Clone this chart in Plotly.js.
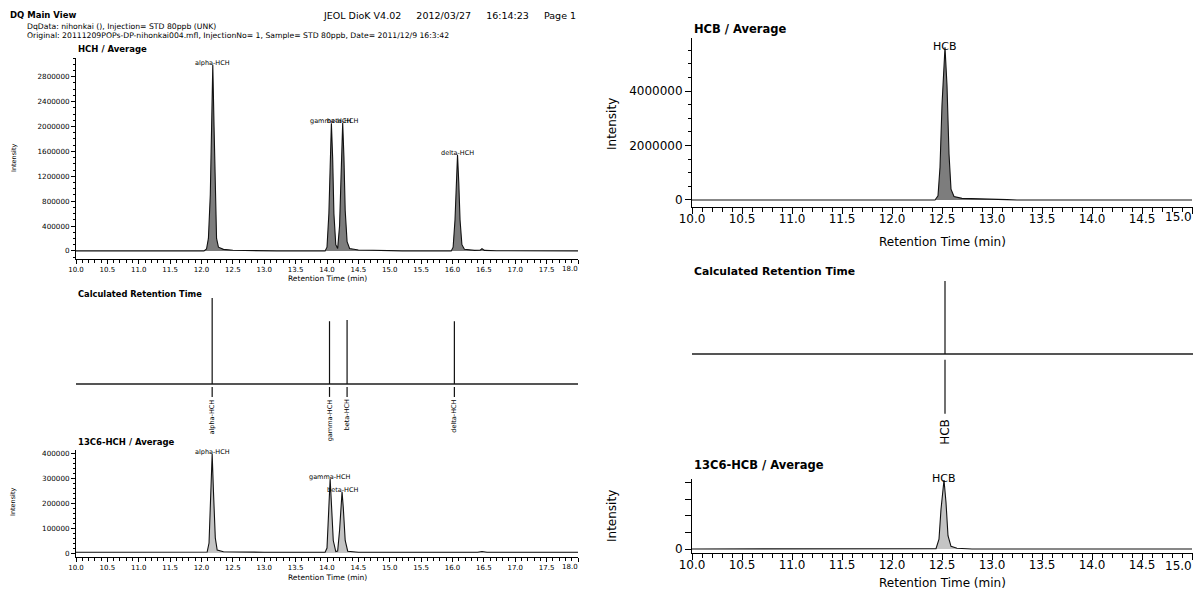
<!DOCTYPE html>
<html><head><meta charset="utf-8">
<script src="https://cdn.plot.ly/plotly-3.0.1.min.js"></script>
<style>html,body{margin:0;padding:0;background:#fff}#c{width:1194px;height:594px}</style>
</head><body><div id="c"></div>
<script>
// ---------- data ----------
const hchTime = [10.00,11.50,12.04,12.08,12.11,12.14,12.16,12.18,12.20,12.22,12.24,12.27,12.35,12.50,12.80,13.20,13.97,14.00,14.03,14.05,14.07,14.09,14.11,14.14,14.17,14.20,14.23,14.25,14.27,14.29,14.32,14.36,14.50,14.80,15.20,15.98,16.01,16.04,16.06,16.08,16.10,16.12,16.15,16.19,16.35,16.44,16.47,16.51,16.70,17.00,18.00];
const hchInt  = [0,0,0,30000,200000,900000,2000000,2990000,2000000,800000,200000,60000,25000,10000,4000,0,0,60000,600000,1500000,2050000,1500000,600000,100000,40000,400000,1500000,2060000,1500000,650000,150000,40000,15000,6000,0,0,60000,500000,1100000,1545000,1100000,500000,100000,25000,8000,10000,35000,8000,3000,0,0];

const c13hchTime = [10.00,11.00,12.00,12.09,12.12,12.15,12.17,12.19,12.22,12.25,12.35,13.00,13.97,14.00,14.03,14.05,14.07,14.10,14.14,14.17,14.20,14.22,14.24,14.26,14.29,14.33,14.50,16.40,16.47,16.55,18.00];
const c13hchInt  = [3000,3000,3000,4000,40000,250000,396000,250000,60000,12000,5000,3000,3000,20000,180000,296000,200000,50000,6000,8000,90000,200000,245000,180000,50000,7000,3000,3000,6000,3000,3000];

const hcbTime = [10.0,12.43,12.46,12.48,12.50,12.53,12.55,12.57,12.59,12.62,12.70,12.85,13.00,13.15,13.25,15.0];
const hcbInt  = [0,0,150000,1200000,3500000,5610000,4200000,1700000,400000,130000,60000,35000,25000,12000,0,0];

const c13hcbTime = [10.0,12.40,12.44,12.47,12.49,12.52,12.54,12.56,12.59,12.65,12.72,12.80,15.0];
const c13hcbInt  = [0,0,5000,150000,600000,1040000,700000,200000,40000,12000,5000,0,0];

// peak labels
const hchPeakNames = ['alpha-HCH','gamma-HCH','beta-HCH','delta-HCH'];
const hchPeakTimes = [12.18,14.07,14.25,16.08];
const hchPeakInts  = [2990000,2050000,2060000,1545000];
const c13hchPeakNames = ['alpha-HCH','gamma-HCH','beta-HCH'];
const c13hchPeakTimes = [12.17,14.05,14.24];
const c13hchPeakInts  = [396000,296000,245000];
const hcbPeakNames = ['HCB'];
const hcbPeakTimes = [12.53];
const hcbPeakInts  = [5610000];
const c13hcbPeakNames = ['HCB'];
const c13hcbPeakTimes = [12.52];
const c13hcbPeakInts  = [1040000];

// calculated retention times
const calcNamesL   = ['alpha-HCH','gamma-HCH','beta-HCH','delta-HCH'];
const calcTimesL   = [12.17,14.04,14.32,16.03];
const calcHeightsL = [1.0,0.73,0.745,0.73];
const calcNamesR   = ['HCB'];
const calcTimesR   = [12.53];
const calcHeightsR = [1.0];

// x tick labels (last one drawn flush with the axis end)
const leftTickVals  = [10,10.5,11,11.5,12,12.5,13,13.5,14,14.5,15,15.5,16,16.5,17,17.5,18];
const leftTickText  = ['10.0','10.5','11.0','11.5','12.0','12.5','13.0','13.5','14.0','14.5','15.0','15.5','16.0','16.5','17.0','17.5',''];
const leftLastLabel = '18.0';
const rightTickVals = [10,10.5,11,11.5,12,12.5,13,13.5,14,14.5,15];
const rightTickText = ['10.0','10.5','11.0','11.5','12.0','12.5','13.0','13.5','14.0','14.5',''];
const rightLastLabel = '15.0';
const hcbLabelVals = [0,250000,500000,750000,1000000];
const hcbLabelText = ['0','','','',''];

// ---------- layout helpers ----------
const W=1194,H=594;
const fx=p=>p/W, fy=p=>1-p/H;
const FONT='"DejaVu Sans", "Liberation Sans", sans-serif';
const LX=[fx(76),fx(578)], RX=[fx(692),fx(1193)];

function chromX(dom, anchor, range, fs, big){
  return {domain:dom, anchor:anchor, range:range, showline:true, linecolor:'#000', linewidth:1,
    ticks:'outside', ticklen:big?6:4, tickwidth:1, tickcolor:'#000',
    tickmode:'array', tickvals:big?rightTickVals:leftTickVals, ticktext:big?rightTickText:leftTickText,
    ticklabelstandoff:big?-5:0,
    tickfont:{size:fs,color:'#000',family:FONT}, showgrid:false, zeroline:false, fixedrange:true,
    minor:{dtick:0.1, tick0:10, ticks:'outside', ticklen:big?3.5:2.5, tickwidth:1, tickcolor:'#000', showgrid:false}};
}
function chromY(dom, anchor, range, dtick, mdtick, fs, big, extra){
  return Object.assign({domain:dom, anchor:anchor, range:range, showline:true, linecolor:'#000', linewidth:1,
    ticks:'outside', ticklen:big?6:4, tickwidth:1, tickcolor:'#000', tick0:0, dtick:dtick, tickformat:'d',
    tickfont:{size:fs,color:'#000',family:FONT}, showgrid:false, zeroline:false, fixedrange:true,
    minor:{dtick:mdtick, ticks:'outside', ticklen:big?3.5:2.5, tickwidth:1, tickcolor:'#000', showgrid:false}}, extra||{});
}
function calcX(dom, anchor, range){
  return {domain:dom, anchor:anchor, range:range, showline:false, ticks:'', showticklabels:false, showgrid:false, zeroline:false, fixedrange:true};
}
function calcY(dom, anchor, range){
  return {domain:dom, anchor:anchor, range:range, showline:false, ticks:'', showticklabels:false, showgrid:false,
    zeroline:true, zerolinecolor:'#555', zerolinewidth:2, fixedrange:true};
}

function chromTrace(x,y,xa,ya,fill){
  return {type:'scatter', mode:'lines', x:x, y:y, xaxis:xa, yaxis:ya, line:{color:'#111',width:1.1},
    fill:'tozeroy', fillcolor:fill, hoverinfo:'skip', showlegend:false};
}
function calcTraces(times, heights, xa, ya, gapTop, gapBot){
  const vx=[],vy=[];
  times.forEach((t,i)=>{vx.push(t,t,null);vy.push(0,heights[i],null);});
  const lx=[],ly=[];
  times.forEach(t=>{lx.push(t,t,null);ly.push(-gapTop,-gapBot,null);});
  return [
    {type:'scatter',mode:'lines',x:vx,y:vy,xaxis:xa,yaxis:ya,line:{color:'#111',width:1.2},hoverinfo:'skip',showlegend:false},
    {type:'scatter',mode:'lines',x:lx,y:ly,xaxis:xa,yaxis:ya,line:{color:'#111',width:1.2},hoverinfo:'skip',showlegend:false}
  ];
}

const data=[
  chromTrace(hchTime,hchInt,'x','y','#7d7d7d'),
  ...calcTraces(calcTimesL,calcHeightsL,'x2','y2',0.035,0.15),
  chromTrace(c13hchTime,c13hchInt,'x3','y3','#c4c4c4'),
  chromTrace(hcbTime,hcbInt,'x4','y4','#7d7d7d'),
  ...calcTraces(calcTimesR,calcHeightsR,'x5','y5',0.08,0.82),
  chromTrace(c13hcbTime,c13hcbInt,'x6','y6','#c4c4c4')
];

const ann=[];
function txt(text,x,y,size,opts){
  ann.push(Object.assign({text:text,xref:'paper',yref:'paper',x:fx(x),y:fy(y),showarrow:false,
    xanchor:'left',yanchor:'middle',font:{size:size,color:'#000',family:FONT}},opts||{}));
}
const S='\u00A0'.repeat(5);
// header
txt('<b>DQ Main View</b>',8,15,8.5);
txt('DqData: nihonkai (), Injection= STD 80ppb (UNK)',25,26,7.7);
txt('Original: 20111209POPs-DP-nihonkai004.mfl, InjectionNo= 1, Sample= STD 80ppb, Date= 2011/12/9 16:3:42',25,36,7.7);
txt('JEOL DioK V4.02'+S+'2012/03/27'+S+'16:14:23'+S+'Page 1',578,16,9.5,{xanchor:'right'});
// panel titles
txt('<b>HCH / Average</b>',76,49,8.5);
txt('<b>Calculated Retention Time</b>',76,294,8.3);
txt('<b>13C6-HCH / Average</b>',76,442,8.5);
txt('<b>HCB / Average</b>',692,29,11.5);
txt('<b>Calculated Retention Time</b>',692,271,10.8);
txt('<b>13C6-HCB / Average</b>',692,465,11.5);
// axis titles
txt('Intensity',14,158,6.5,{xanchor:'center',textangle:-90});
txt('Intensity',13,502,6.5,{xanchor:'center',textangle:-90});
txt('Intensity',612,124,12,{xanchor:'center',textangle:-90});
txt('Intensity',612,516,12,{xanchor:'center',textangle:-90});
txt('Retention Time (min)',327,278,7.5,{xanchor:'center'});
txt('Retention Time (min)',327,577,7.5,{xanchor:'center'});
txt('Retention Time (min)',942,242,12,{xanchor:'center'});
txt('Retention Time (min)',942,583,12,{xanchor:'center'});
// last x tick labels flush right
txt(leftLastLabel,580,269,7,{xanchor:'right'});
txt(leftLastLabel,580,567,7,{xanchor:'right'});
txt(rightLastLabel,1194,217,12,{xanchor:'right'});
txt(rightLastLabel,1194,566,12,{xanchor:'right'});

function peakLabels(names,times,ints,xa,ya,size){
  names.forEach((n,i)=>ann.push({text:n,xref:xa,yref:ya,x:times[i],y:ints[i],showarrow:false,
    xanchor:'center',yanchor:'middle',yshift:size>8?1:2,font:{size:size,color:'#000',family:FONT}}));
}
peakLabels(hchPeakNames,hchPeakTimes,hchPeakInts,'x','y',6.5);
peakLabels(c13hchPeakNames,c13hchPeakTimes,c13hchPeakInts,'x3','y3',6.5);
peakLabels(hcbPeakNames,hcbPeakTimes,hcbPeakInts,'x4','y4',11);
peakLabels(c13hcbPeakNames,c13hcbPeakTimes,c13hcbPeakInts,'x6','y6',11);
function calcLabels(names,times,xa,ya,y0,size){
  names.forEach((n,i)=>ann.push({text:n,xref:xa,yref:ya,x:times[i],y:y0,showarrow:false,
    xanchor:'center',yanchor:'top',textangle:-90,font:{size:size,color:'#000',family:FONT}}));
}
calcLabels(calcNamesL,calcTimesL,'x2','y2',-0.16,6.5);
calcLabels(calcNamesR,calcTimesR,'x5','y5',-0.86,12);

const layout={
  width:W,height:H,margin:{l:0,r:0,t:0,b:0},paper_bgcolor:'#fff',plot_bgcolor:'rgba(0,0,0,0)',
  showlegend:false,font:{family:FONT,color:'#000'},
  xaxis: chromX(LX,'y',[10,18],7,false),
  yaxis: chromY([fy(259),fy(58)],'x',[-130000,3100000],400000,100000,7.2,false),
  xaxis2: calcX(LX,'y2',[10,18]),
  yaxis2: calcY([fy(432),fy(290)],'x2',[-0.558,1.093]),
  xaxis3: chromX(LX,'y3',[10,18],7,false),
  yaxis3: chromY([fy(557),fy(450)],'x3',[-16000,412000],100000,20000,7.2,false),
  xaxis4: chromX(RX,'y4',[10,15.01],12,true),
  yaxis4: chromY([fy(207),fy(38)],'x4',[-258000,5950000],2000000,500000,12,true),
  xaxis5: calcX(RX,'y5',[10,15.01]),
  yaxis5: calcY([fy(450),fy(278)],'x5',[-1.315,1.041]),
  xaxis6: chromX(RX,'y6',[10,15.01],12,true),
  yaxis6: chromY([fy(553),fy(479.3)],'x6',[-60000,1050000],250000,250000,12,true,
     {tickmode:'array',tickvals:hcbLabelVals,ticktext:hcbLabelText,minor:{ticks:''}}),
  annotations:ann
};
Plotly.newPlot('c',data,layout,{staticPlot:true,displayModeBar:false});
</script></body></html>
